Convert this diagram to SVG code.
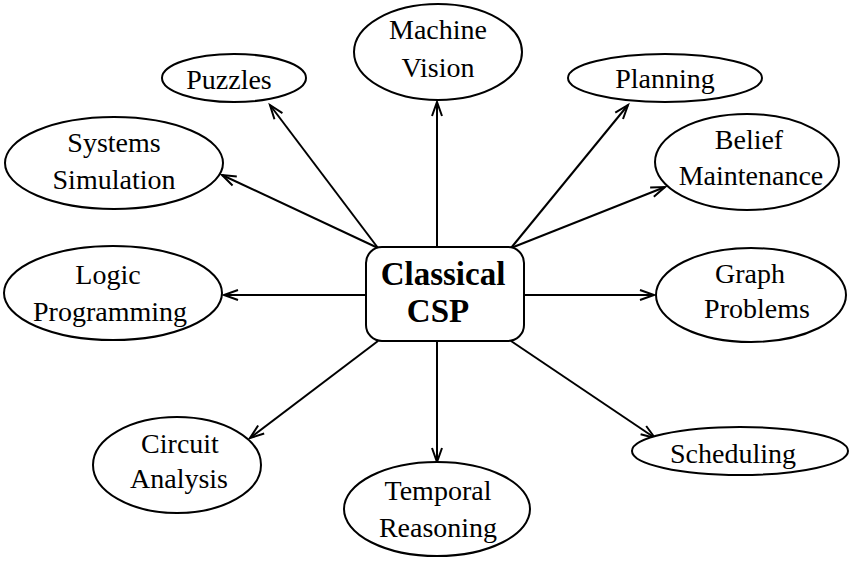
<svg xmlns="http://www.w3.org/2000/svg" width="850" height="561" viewBox="0 0 850 561">
<style>
.n{fill:#fff;stroke:#000;stroke-width:2}
.t{font-family:"Liberation Serif","Times New Roman",serif;font-size:28px;text-anchor:middle;fill:#000}
.b{font-family:"Liberation Serif","Times New Roman",serif;font-size:33px;font-weight:bold;text-anchor:middle;fill:#000}
.e{stroke:#000;stroke-width:2;fill:none;marker-end:url(#ah)}
</style>
<defs>
<marker id="ah" markerUnits="userSpaceOnUse" markerWidth="20" markerHeight="20" refX="0" refY="0" viewBox="-16 -8 20 16" orient="auto" overflow="visible">
<path d="M-14,-5 L0,0 L-14,5" fill="none" stroke="#000" stroke-width="2"/>
</marker>
</defs>
<rect width="850" height="561" fill="#fff"/>
<g id="connectors">
<line class="e" x1="437" y1="247" x2="437" y2="102"/>
<line class="e" x1="378" y1="248" x2="270" y2="105"/>
<line class="e" x1="378" y1="248" x2="222" y2="175"/>
<line class="e" x1="511" y1="248" x2="628" y2="105"/>
<line class="e" x1="511" y1="248" x2="665" y2="187"/>
<line class="e" x1="366" y1="295" x2="224" y2="295"/>
<line class="e" x1="524" y1="295" x2="654" y2="295"/>
<line class="e" x1="378" y1="341" x2="250" y2="438"/>
<line class="e" x1="437" y1="341" x2="437" y2="462"/>
<line class="e" x1="511" y1="341" x2="655" y2="438"/>
</g>
<g id="csp">
<rect class="n" x="366" y="247" width="158" height="94" rx="16"/>
<text class="b" x="443" y="285">Classical</text>
<text class="b" x="438" y="322">CSP</text>
</g>
<g id="machine-vision">
<ellipse class="n" cx="438" cy="52" rx="84" ry="48"/>
<text class="t" x="438" y="39">Machine</text>
<text class="t" x="438" y="77">Vision</text>
</g>
<g id="puzzles">
<ellipse class="n" cx="234" cy="78" rx="72" ry="24"/>
<text class="t" x="229" y="89">Puzzles</text>
</g>
<g id="planning">
<ellipse class="n" cx="665" cy="78" rx="97" ry="24"/>
<text class="t" x="665" y="88">Planning</text>
</g>
<g id="systems-simulation">
<ellipse class="n" cx="114" cy="163" rx="109" ry="46"/>
<text class="t" x="114" y="152">Systems</text>
<text class="t" x="114" y="189">Simulation</text>
</g>
<g id="belief-maintenance">
<ellipse class="n" cx="747" cy="162" rx="92" ry="48"/>
<text class="t" x="749" y="149">Belief</text>
<text class="t" x="751" y="185">Maintenance</text>
</g>
<g id="logic-programming">
<ellipse class="n" cx="113" cy="293" rx="109" ry="47"/>
<text class="t" x="108" y="284">Logic</text>
<text class="t" x="110" y="321">Programming</text>
</g>
<g id="graph-problems">
<ellipse class="n" cx="751" cy="295" rx="95" ry="47"/>
<text class="t" x="750" y="283">Graph</text>
<text class="t" x="757" y="318">Problems</text>
</g>
<g id="circuit-analysis">
<ellipse class="n" cx="177" cy="465" rx="84" ry="48"/>
<text class="t" x="180" y="453">Circuit</text>
<text class="t" x="179" y="488">Analysis</text>
</g>
<g id="temporal-reasoning">
<ellipse class="n" cx="437" cy="509" rx="93" ry="47"/>
<text class="t" x="438" y="500">Temporal</text>
<text class="t" x="438" y="537">Reasoning</text>
</g>
<g id="scheduling">
<ellipse class="n" cx="740" cy="451" rx="108" ry="24"/>
<text class="t" x="733" y="463">Scheduling</text>
</g>
</svg>
